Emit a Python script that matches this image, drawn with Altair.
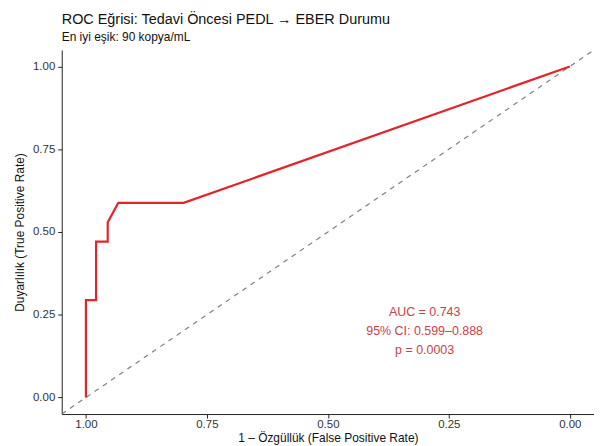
import altair as alt
import pandas as pd

# ROC curve points (specificity on reversed x axis, sensitivity on y)
specificity = [1.00, 1.00, 0.979, 0.979, 0.955, 0.955, 0.933, 0.798, 0.00]
sensitivity = [0.00, 0.294, 0.294, 0.471, 0.471, 0.529, 0.588, 0.588, 1.00]

diag_x = [1.05, -0.05]
diag_y = [-0.05, 1.05]

annot_lines = ["AUC = 0.743", "95% CI: 0.599–0.888", "p = 0.0003"]
annot_x = [0.30, 0.30, 0.30]
annot_y = [0.257, 0.200, 0.142]

tick_vals = [0.0, 0.25, 0.5, 0.75, 1.0]

FONT = "Liberation Sans"

roc = pd.DataFrame({"spec": specificity, "sens": sensitivity, "order": list(range(len(specificity)))})
diag = pd.DataFrame({"spec": diag_x, "sens": diag_y})
annot = pd.DataFrame({"spec": annot_x, "sens": annot_y, "label": annot_lines})

xscale = alt.Scale(domain=[-0.05, 1.05], reverse=True, nice=False, zero=False)
yscale = alt.Scale(domain=[-0.05, 1.05], nice=False, zero=False)

xaxis = alt.Axis(values=tick_vals, format=".2f", title="1 – Özgüllük (False Positive Rate)", grid=False,
                 titleFontWeight="normal", titlePadding=2, labelPadding=1)
yaxis = alt.Axis(values=tick_vals, format=".2f", title="Duyarlılık (True Positive Rate)", grid=False,
                 titleFontWeight="normal", titlePadding=6)

diag_layer = alt.Chart(diag).mark_line(color="#808080", strokeDash=[5, 5], strokeWidth=1.2, clip=True).encode(
    x=alt.X("spec:Q", scale=xscale, axis=xaxis),
    y=alt.Y("sens:Q", scale=yscale, axis=yaxis),
)

roc_layer = alt.Chart(roc).mark_line(color="#E3242B", strokeWidth=2.2).encode(
    x=alt.X("spec:Q", scale=xscale, axis=xaxis),
    y=alt.Y("sens:Q", scale=yscale, axis=yaxis),
    order="order:Q",
)

text_layer = alt.Chart(annot).mark_text(color="#C8414B", fontSize=12.5, font=FONT, align="center", baseline="middle").encode(
    x=alt.X("spec:Q", scale=xscale),
    y=alt.Y("sens:Q", scale=yscale),
    text="label:N",
)

chart = alt.layer(diag_layer, roc_layer, text_layer).properties(
    width=535,
    height=366,
    padding={"left": 5, "top": 2, "right": 0, "bottom": 0},
    title=alt.TitleParams(
        text="ROC Eğrisi: Tedavi Öncesi PEDL → EBER Durumu",
        subtitle="En iyi eşik: 90 kopya/mL",
        anchor="start",
        frame="group",
        font=FONT,
        fontSize=14.5,
        fontWeight="normal",
        color="#111111",
        subtitleFont=FONT,
        subtitleFontSize=12,
        subtitleColor="#111111",
        subtitlePadding=5,
        offset=6,
    ),
).configure_view(stroke=None).configure_axis(
    domainColor="#222222",
    domainWidth=1,
    tickColor="#222222",
    tickSize=4,
    labelFont=FONT,
    labelFontSize=11.5,
    labelColor="#333333",
    titleFont=FONT,
    titleFontSize=12,
    titleFontWeight="normal",
    titleColor="#111111",
    labelPadding=3,
)

chart.save("out.html", embed_options={"renderer": "svg", "actions": False})
